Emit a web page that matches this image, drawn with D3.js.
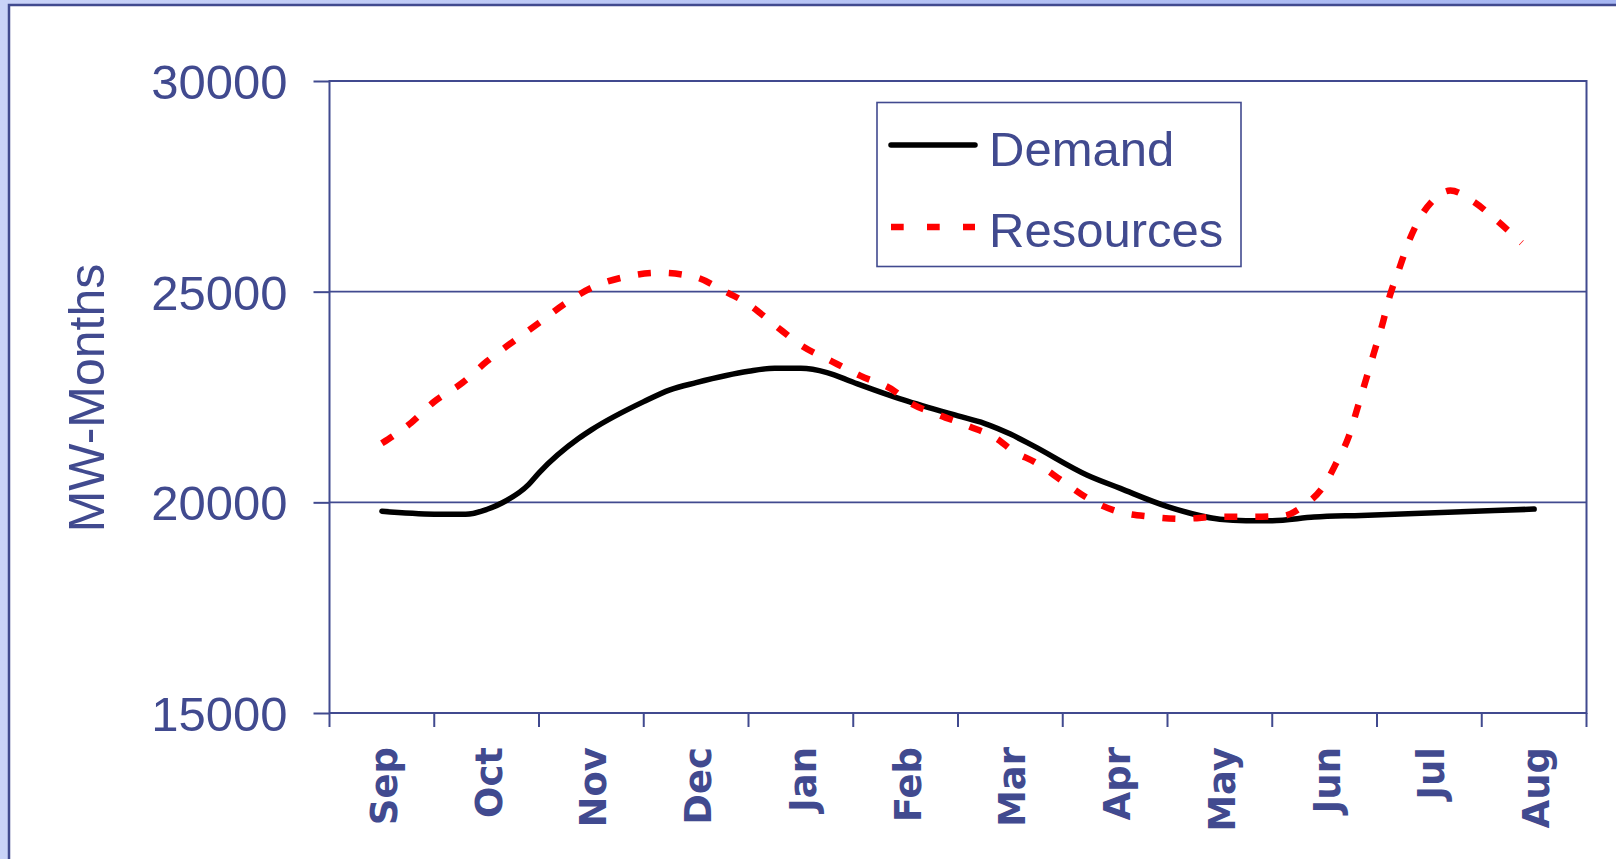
<!DOCTYPE html>
<html>
<head>
<meta charset="utf-8">
<script src="https://cdn.jsdelivr.net/npm/d3@7"></script>
<style>
  html, body { margin: 0; padding: 0; background: #c3cef7; overflow: hidden; }
</style>
</head>
<body>
<div id="chart"></div>
<script>
// month categories and y ticks
const months = ["Sep", "Oct", "Nov", "Dec", "Jan", "Feb", "Mar", "Apr", "May", "Jun", "Jul", "Aug"];
const yTicks = [15000, 20000, 25000, 30000];

// Demand (position in months from Sep, MW-Months)
const demandPos = [0, 0.5, 0.8, 1.0, 1.15, 1.4, 1.5, 1.88, 2.0, 2.5, 2.75, 3.0, 3.5, 3.75, 4.0, 4.25, 4.5,
    4.98, 5.5, 5.75, 6.0, 6.22, 6.73, 7.05, 7.5, 8.0, 8.25, 8.5, 8.9, 9.35, 11.0];
const demandMW = [19790, 19720, 19715, 19830, 19990, 20420, 20700, 21520, 21720, 22390, 22670, 22840, 23110, 23180, 23180, 23080, 22850,
    22430, 22050, 21876, 21620, 21340, 20650, 20330, 19900, 19600, 19565, 19565, 19650, 19690, 19840];

// Resources
const resourcePos = [0, 0.28, 0.5, 0.77, 1.0, 1.25, 1.5, 1.75, 2.0, 2.33, 2.65, 3.0, 3.25, 3.5, 3.75, 4.0, 4.3, 4.57,
    4.9, 5.0, 5.3, 5.6, 5.9, 6.0, 6.25, 6.5, 6.75, 7.0, 7.33, 7.65, 8.0, 8.3, 8.6, 8.8, 9.0, 9.12, 9.23, 9.31,
    9.38, 9.47, 9.55, 9.62, 9.71, 9.81, 9.94, 10.04, 10.2, 10.42, 10.63, 10.88];
const resourceMW = [21400, 21890, 22390, 22840, 23340, 23810, 24260, 24720, 25090, 25355, 25450, 25340, 25040, 24700, 24210, 23730, 23340, 23000,
    22630, 22430, 22090, 21810, 21460, 21260, 20930, 20500, 20080, 19800, 19660, 19610, 19660, 19660, 19680, 19920, 20420, 20980, 21560, 22210,
    22790, 23540, 24210, 24880, 25530, 26230, 26870, 27180, 27400, 27140, 26720, 26160];

{
    let width = 1616;
    let height = 859;
    let ink = "#414a8f";
    let arial = "'Liberation Sans', Arial, sans-serif";

    let svg = d3.select('#chart')
        .append('svg')
        .attr('width', width)
        .attr('height', height)
        .style('display', 'block');

    // page background and white panel
    let defs = svg.append('defs');
    let bg = defs.append('linearGradient').attr('id', 'bg').attr('x1', '0%').attr('x2', '100%');
    bg.append('stop').attr('offset', '0%').attr('stop-color', '#c9d3f8');
    bg.append('stop').attr('offset', '100%').attr('stop-color', '#a6b6f2');
    svg.append('rect').attr('width', width).attr('height', height).attr('fill', 'url(#bg)');
    svg.append('rect')
        .attr('x', 9).attr('y', 5)
        .attr('width', width + 10).attr('height', height + 10)
        .attr('fill', 'white')
        .attr('stroke', ink)
        .attr('stroke-width', 2.5);

    let plotLeft = 329.5, plotRight = 1586.5, plotTop = 81, plotBottom = 713;

    let x = d3.scaleBand().domain(months).range([plotLeft, plotRight]);
    let bw = x.bandwidth();
    let xPos = d3.scaleLinear().domain([0, months.length - 1])
        .range([x(months[0]) + bw / 2, x(months[months.length - 1]) + bw / 2]);
    let y = d3.scaleLinear().domain([15000, 30000]).range([plotBottom, plotTop]);

    // gridlines
    svg.append('g')
        .selectAll('line')
        .data(yTicks.slice(1, -1))
        .enter().append('line')
        .attr('x1', plotLeft).attr('x2', plotRight)
        .attr('y1', d => y(d)).attr('y2', d => y(d))
        .attr('stroke', ink).attr('stroke-width', 1.6);

    // plot frame
    svg.append('rect')
        .attr('x', plotLeft).attr('y', plotTop)
        .attr('width', plotRight - plotLeft).attr('height', plotBottom - plotTop)
        .attr('fill', 'none')
        .attr('stroke', ink).attr('stroke-width', 2);

    // y axis
    let yAxis = svg.append('g')
        .attr('transform', `translate(${plotLeft},0)`)
        .call(d3.axisLeft(y).tickValues(yTicks).tickSize(16).tickSizeOuter(0).tickPadding(26).tickFormat(d3.format('d')));
    yAxis.select('.domain').remove();
    yAxis.selectAll('line').attr('stroke', ink).attr('stroke-width', 2);
    yAxis.selectAll('text')
        .attr('fill', ink)
        .attr('font-family', arial)
        .attr('font-size', 49)
        .attr('dy', '0.36em');

    // x ticks at category boundaries
    let bounds = months.map(m => x(m)).concat([plotRight]);
    svg.append('g')
        .selectAll('line')
        .data(bounds)
        .enter().append('line')
        .attr('x1', d => d).attr('x2', d => d)
        .attr('y1', plotBottom).attr('y2', plotBottom + 14)
        .attr('stroke', ink).attr('stroke-width', 2);

    // x labels
    svg.append('g')
        .selectAll('text')
        .data(months)
        .enter().append('text')
        .attr('transform', d => `translate(${x(d) + bw / 2 + 15},747) rotate(-90)`)
        .attr('text-anchor', 'end')
        .attr('fill', ink)
        .attr('font-family', "'Comic Sans MS', 'DejaVu Sans', sans-serif")
        .attr('font-weight', 'bold')
        .attr('font-size', 37)
        .text(d => d);

    // y title
    svg.append('text')
        .attr('transform', 'translate(104,398) rotate(-90)')
        .attr('text-anchor', 'middle')
        .attr('fill', ink)
        .attr('font-family', arial)
        .attr('font-size', 50)
        .text('MW-Months');

    // lines
    let line = d3.line()
        .x(d => xPos(d[0]))
        .y(d => y(d[1]))
        .curve(d3.curveMonotoneX);

    svg.append('path')
        .datum(d3.zip(demandPos, demandMW))
        .attr('d', line)
        .attr('fill', 'none')
        .attr('stroke', 'black')
        .attr('stroke-width', 5.5)
        .attr('stroke-linecap', 'round')
        .attr('stroke-linejoin', 'round');

    svg.append('path')
        .datum(d3.zip(resourcePos, resourceMW))
        .attr('d', line)
        .attr('fill', 'none')
        .attr('stroke', '#ff0000')
        .attr('stroke-width', 6.5)
        .attr('stroke-dasharray', '13,18');

    // legend
    let legend = svg.append('g');
    legend.append('rect')
        .attr('x', 877).attr('y', 102.5)
        .attr('width', 364).attr('height', 164)
        .attr('fill', 'white')
        .attr('stroke', ink).attr('stroke-width', 1.6);

    let items = [
        { name: 'Demand', color: 'black', dash: null, ly: 145, ty: 166 },
        { name: 'Resources', color: '#ff0000', dash: '12.7,23.3', ly: 227, ty: 247 }
    ];

    legend.selectAll('.lg-line')
        .data(items)
        .enter().append('line')
        .attr('class', 'lg-line')
        .attr('x1', 891).attr('x2', 975)
        .attr('y1', d => d.ly).attr('y2', d => d.ly)
        .attr('stroke', d => d.color)
        .attr('stroke-width', d => d.dash ? 6.5 : 5.5)
        .attr('stroke-linecap', d => d.dash ? 'butt' : 'round')
        .attr('stroke-dasharray', d => d.dash);

    legend.selectAll('.lg-text')
        .data(items)
        .enter().append('text')
        .attr('class', 'lg-text')
        .attr('x', 989).attr('y', d => d.ty)
        .attr('fill', ink)
        .attr('font-family', arial)
        .attr('font-size', 49)
        .text(d => d.name);
}
</script>
</body>
</html>
